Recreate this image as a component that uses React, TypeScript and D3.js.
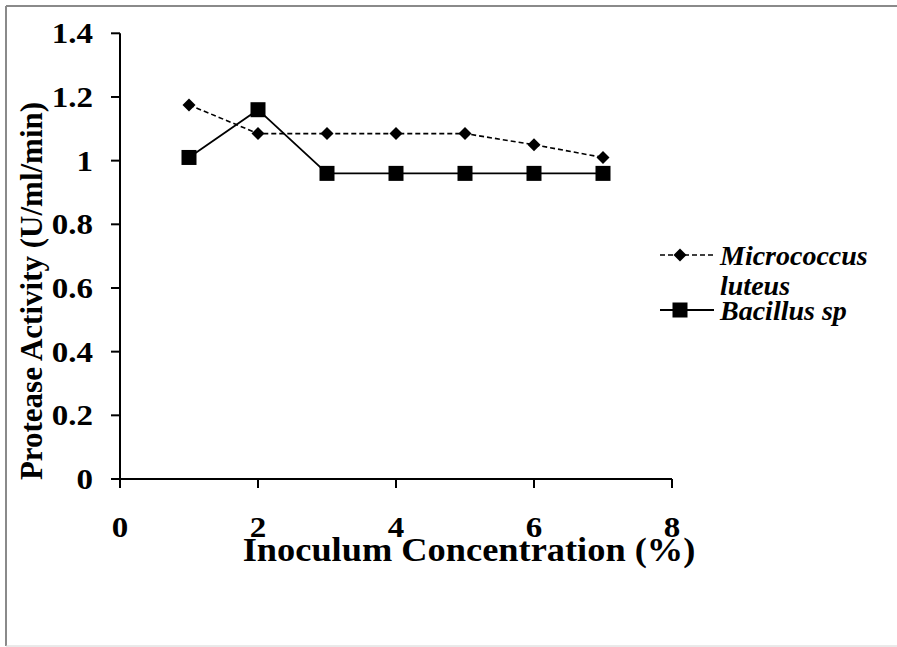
import React from "react";
import * as d3 from "d3";

const concentrations = [1, 2, 3, 4, 5, 6, 7];
const micrococcus = [1.175, 1.085, 1.085, 1.085, 1.085, 1.05, 1.01];
const bacillus = [1.01, 1.16, 0.96, 0.96, 0.96, 0.96, 0.96];
const xTicks = [0, 2, 4, 6, 8];
const yTicks = [0, 0.2, 0.4, 0.6, 0.8, 1, 1.2, 1.4];
const seriesNames = ["Micrococcus", "luteus", "Bacillus sp"];

const W = 897;
const H = 647;
const FONT = "'Liberation Serif', 'Times New Roman', serif";

export default function App() {
  const x = d3.scaleLinear().domain([0, 8]).range([120, 672]);
  const y = d3.scaleLinear().domain([0, 1.4]).range([479, 33.3]);
  const line = d3
    .line<number>()
    .x((_, i) => x(concentrations[i]))
    .y((d) => y(d));
  const diamond = (cx: number, cy: number, r: number) =>
    `M${cx},${cy - r}L${cx + r},${cy}L${cx},${cy + r}L${cx - r},${cy}Z`;

  return (
    <svg
      width={W}
      height={H}
      style={{ position: "absolute", left: 0, top: 0, background: "#fff" }}
      fontFamily={FONT}
    >
      <rect x={0} y={0} width={W} height={H} fill="#fff" />
      {/* frame */}
      <line x1={6} y1={6} x2={W} y2={6} stroke="#8a8a8a" strokeWidth={2} />
      <line x1={6} y1={6} x2={6} y2={646} stroke="#8a8a8a" strokeWidth={2} />
      <line x1={6} y1={646} x2={W} y2={646} stroke="#d4d4d4" strokeWidth={1} />

      {/* axes */}
      <line x1={x(0)} y1={y(0)} x2={x(8)} y2={y(0)} stroke="#000" strokeWidth={2} />
      <line x1={x(0)} y1={y(0)} x2={x(0)} y2={y(1.4)} stroke="#000" strokeWidth={2} />
      {yTicks.map((t) => (
        <g key={"y" + t}>
          <line x1={x(0) - 9} x2={x(0)} y1={y(t)} y2={y(t)} stroke="#000" strokeWidth={2} />
          <text
            transform={`translate(93,${y(t) + 10}) scale(1.1,1)`}
            textAnchor="end"
            fontSize={30}
            fontWeight="bold"
          >
            {String(t)}
          </text>
        </g>
      ))}
      {xTicks.map((t) => (
        <g key={"x" + t}>
          <line x1={x(t)} x2={x(t)} y1={y(0)} y2={y(0) + 9} stroke="#000" strokeWidth={2} />
          <text
            transform={`translate(${x(t)},537) scale(1.1,1)`}
            textAnchor="middle"
            fontSize={30}
            fontWeight="bold"
          >
            {String(t)}
          </text>
        </g>
      ))}

      {/* axis titles */}
      <text
        transform="translate(469,561) scale(1.07,1)"
        textAnchor="middle"
        fontSize={34}
        fontWeight="bold"
      >
        Inoculum Concentration (%)
      </text>
      <text
        transform={`translate(42,291) rotate(-90)`}
        textAnchor="middle"
        fontSize={31}
        fontWeight="bold"
      >
        Protease Activity (U/ml/min)
      </text>

      {/* series */}
      <path
        d={line(micrococcus) || ""}
        fill="none"
        stroke="#000"
        strokeWidth={1.6}
        strokeDasharray="5,3"
      />
      <path d={line(bacillus) || ""} fill="none" stroke="#000" strokeWidth={1.8} />
      {micrococcus.map((v, i) => (
        <path key={"m" + i} d={diamond(x(concentrations[i]), y(v), 6.5)} fill="#000" />
      ))}
      {bacillus.map((v, i) => (
        <rect
          key={"b" + i}
          x={x(concentrations[i]) - 7.5}
          y={y(v) - 7.5}
          width={15}
          height={15}
          fill="#000"
        />
      ))}

      {/* legend */}
      <line x1={660} x2={714} y1={255} y2={255} stroke="#000" strokeWidth={1.6} strokeDasharray="5,3" />
      <path d={diamond(680, 255, 6.5)} fill="#000" />
      <text x={720} y={265} fontSize={28} fontWeight="bold" fontStyle="italic">
        {seriesNames[0]}
      </text>
      <text x={720} y={295} fontSize={28} fontWeight="bold" fontStyle="italic">
        {seriesNames[1]}
      </text>
      <line x1={660} x2={714} y1={310} y2={310} stroke="#000" strokeWidth={1.8} />
      <rect x={672.5} y={302.5} width={15} height={15} fill="#000" />
      <text x={720} y={320} fontSize={28} fontWeight="bold" fontStyle="italic">
        {seriesNames[2]}
      </text>
    </svg>
  );
}
